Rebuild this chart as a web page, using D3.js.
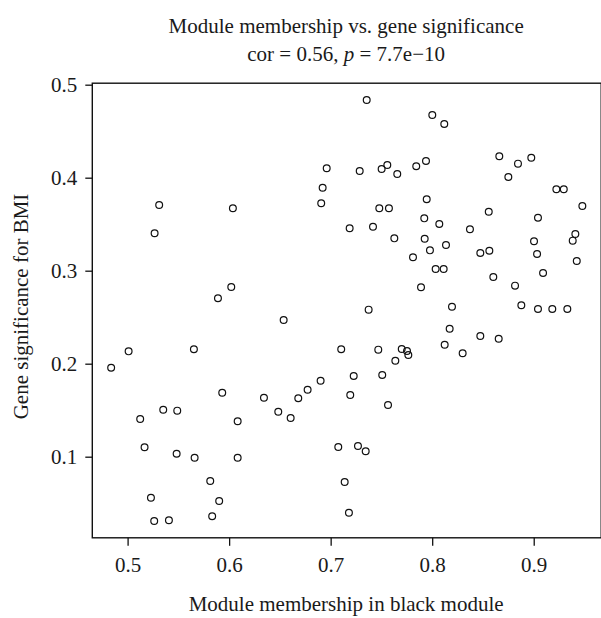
<!DOCTYPE html>
<html>
<head>
<meta charset="utf-8">
<script src="https://cdn.jsdelivr.net/npm/d3@7"></script>
<style>
  html, body { margin: 0; padding: 0; background: #fff; }
  svg { display: block; }
  text { font-family: "Liberation Serif", "DejaVu Serif", serif; fill: #1a1a1a; }
</style>
</head>
<body>
<div id="chart"></div>
<script>
// Module membership (x) and gene significance (y) for each gene
const moduleMembership = [
  0.7355, 0.8001, 0.8119, 0.6961, 0.6921, 0.6907, 0.7286, 0.7502, 0.7558, 0.7656,
  0.7843, 0.7939, 0.8661, 0.8845, 0.8976, 0.8750, 0.9223, 0.9296, 0.9479, 0.7946,
  0.7479, 0.7574, 0.8557, 0.9042, 0.7187, 0.7417, 0.7922, 0.8070, 0.8372, 0.7627,
  0.7926, 0.8136, 0.7978, 0.7811, 0.8034, 0.8113, 0.7890, 0.9410, 0.9384, 0.9003,
  0.9033, 0.9424, 0.8474, 0.8563, 0.8602, 0.9092, 0.8816, 0.7374, 0.8195, 0.8878,
  0.9042, 0.9183, 0.9331, 0.8172, 0.8474, 0.8655, 0.5311, 0.5266, 0.6037, 0.6021,
  0.5890, 0.6537, 0.5010, 0.4838, 0.5653, 0.5932, 0.6343, 0.6681, 0.6773, 0.6901,
  0.7104, 0.5351, 0.5489, 0.5124, 0.6484, 0.6606, 0.6084, 0.5167, 0.5483, 0.5660,
  0.6084, 0.5814, 0.5230, 0.5902, 0.5833, 0.5262, 0.5407, 0.7469, 0.7700, 0.7752,
  0.7765, 0.7637, 0.7227, 0.7508, 0.7193, 0.7565, 0.7075, 0.7269, 0.7345, 0.7138,
  0.7180, 0.8123, 0.8300
];
const geneSignificance = [
  0.4835, 0.4674, 0.4577, 0.4101, 0.3892, 0.3725, 0.4072, 0.4094, 0.4137, 0.4040,
  0.4123, 0.4180, 0.4230, 0.4151, 0.4215, 0.4008, 0.3875, 0.3875, 0.3696, 0.3768,
  0.3671, 0.3671, 0.3634, 0.3570, 0.3456, 0.3473, 0.3563, 0.3502, 0.3445, 0.3348,
  0.3344, 0.3276, 0.3219, 0.3144, 0.3018, 0.3018, 0.2822, 0.3395, 0.3323, 0.3316,
  0.3180, 0.3104, 0.3190, 0.3215, 0.2932, 0.2975, 0.2839, 0.2581, 0.2613, 0.2628,
  0.2588, 0.2588, 0.2588, 0.2376, 0.2298, 0.2269, 0.3706, 0.3402, 0.3671, 0.2825,
  0.2703, 0.2470, 0.2133, 0.1957, 0.2155, 0.1688, 0.1634, 0.1628, 0.1720, 0.1817,
  0.2155, 0.1505, 0.1495, 0.1405, 0.1484, 0.1416, 0.1381, 0.1101, 0.1032, 0.0989,
  0.0989, 0.0739, 0.0559, 0.0524, 0.0359, 0.0309, 0.0316, 0.2151, 0.2158, 0.2137,
  0.2094, 0.2032, 0.1868, 0.1878, 0.1663, 0.1556, 0.1104, 0.1115, 0.1058, 0.0728,
  0.0398, 0.2204, 0.2112
];
const xTicks = [0.5, 0.6, 0.7, 0.8, 0.9];
const yTicks = [0.1, 0.2, 0.3, 0.4, 0.5];
const titleLines = ["Module membership vs. gene significance"];
const xLabel = "Module membership in black module";
const yLabel = "Gene significance for BMI";

const W = 601, H = 618;
const plot = { left: 92.3, right: 601.2, top: 83.2, bottom: 537.8 };
const FS = "21px";

// R-style 4% axis extension
function rlim(v) {
  const lo = d3.min(v), hi = d3.max(v), pad = (hi - lo) * 0.04;
  return [lo - pad, hi + pad];
}

const x = d3.scaleLinear().domain(rlim(moduleMembership)).range([plot.left, plot.right]);
const y = d3.scaleLinear().domain(rlim(geneSignificance)).range([plot.bottom, plot.top]);

const svg = d3.select("#chart").append("svg").attr("width", W).attr("height", H);

// Title
const cx = (plot.left + 600) / 2;
svg.append("text").attr("x", cx).attr("y", 33).attr("text-anchor", "middle")
  .style("font-size", FS).text(titleLines[0]);
const t2 = svg.append("text").attr("x", cx).attr("y", 61).attr("text-anchor", "middle")
  .style("font-size", FS);
t2.append("tspan").text("cor = 0.56, ");
t2.append("tspan").style("font-style", "italic").text("p");
t2.append("tspan").text(" = 7.7e\u221210");

// Box (right side lies at the image edge)
svg.append("rect")
  .attr("x", plot.left).attr("y", plot.top)
  .attr("width", plot.right - plot.left).attr("height", plot.bottom - plot.top)
  .attr("fill", "none").attr("stroke", "#111").attr("stroke-width", 1.4);

// Axes
const xAxis = d3.axisBottom(x).tickValues(xTicks).tickSize(8).tickPadding(11)
  .tickFormat(d3.format(".1f"));
const gx = svg.append("g").attr("transform", `translate(0,${plot.bottom})`).call(xAxis);
gx.select(".domain").remove();
gx.selectAll(".tick line").attr("stroke", "#111").attr("stroke-width", 1.3);
gx.selectAll(".tick text").style("font-size", FS).attr("fill", "#1a1a1a")
  .style("font-family", "'Liberation Serif', serif");

const yAxis = d3.axisLeft(y).tickValues(yTicks).tickSize(7).tickPadding(8)
  .tickFormat(d3.format(".1f"));
const gy = svg.append("g").attr("transform", `translate(${plot.left},0)`).call(yAxis);
gy.select(".domain").remove();
gy.selectAll(".tick line").attr("stroke", "#111").attr("stroke-width", 1.3);
gy.selectAll(".tick text").style("font-size", FS).attr("fill", "#1a1a1a")
  .style("font-family", "'Liberation Serif', serif");

// Axis labels
svg.append("text").attr("x", cx).attr("y", 611).attr("text-anchor", "middle")
  .style("font-size", FS).text(xLabel);
svg.append("text")
  .attr("transform", `translate(28,${(plot.top + plot.bottom) / 2 - 4}) rotate(-90)`)
  .attr("text-anchor", "middle").style("font-size", FS).text(yLabel);

// Points
svg.append("g").selectAll("circle")
  .data(moduleMembership.map((v, i) => [v, geneSignificance[i]]))
  .join("circle")
  .attr("cx", d => x(d[0])).attr("cy", d => y(d[1]))
  .attr("r", 3.4).attr("fill", "none").attr("stroke", "#111").attr("stroke-width", 1.2);
</script>
</body>
</html>
